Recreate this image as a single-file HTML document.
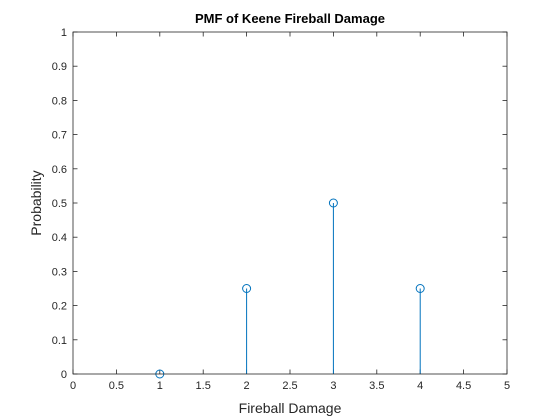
<!DOCTYPE html>
<html>
<head>
<meta charset="utf-8">
<style>
html,body{margin:0;padding:0;background:#fff;}
svg{display:block;font-family:"Liberation Sans",Arial,sans-serif;}
</style>
</head>
<body>
<svg id="chart" width="560" height="420" viewBox="0 0 560 420">
  <rect x="0" y="0" width="560" height="420" fill="#fff"/>
  <rect x="73" y="32" width="434" height="342" fill="#fff"/>
  <g id="grid"></g>
  <g id="marks"></g>
  <rect x="73" y="32" width="434" height="342" fill="none" stroke="#262626" stroke-width="0.8"/>
  <text x="290" y="23" text-anchor="middle" font-size="13" font-weight="bold" fill="#000">PMF of Keene Fireball Damage</text>
  <text x="290" y="413" text-anchor="middle" font-size="14" fill="#262626">Fireball Damage</text>
  <text x="0" y="0" transform="translate(41,203) rotate(-90)" text-anchor="middle" font-size="14" fill="#262626">Probability</text>
</svg>
<script>
const categories = [1, 2, 3, 4];
const probabilities = [0, 0.25, 0.5, 0.25];
const xTickLabels = ["0","0.5","1","1.5","2","2.5","3","3.5","4","4.5","5"];
const yTickLabels = ["0","0.1","0.2","0.3","0.4","0.5","0.6","0.7","0.8","0.9","1"];

const L=73,R=507,T=32,B=374;
const xMin=0,xMax=5,yMin=0,yMax=1;
function sx(v){return L+(v-xMin)/(xMax-xMin)*(R-L);}
function sy(v){return B-(v-yMin)/(yMax-yMin)*(B-T);}
const NS="http://www.w3.org/2000/svg";
const grid=document.getElementById('grid');
const marks=document.getElementById('marks');
function mk(tag,attrs,parent){const e=document.createElementNS(NS,tag);for(const k in attrs)e.setAttribute(k,attrs[k]);parent.appendChild(e);return e;}

xTickLabels.forEach(function(lab){
  const v=parseFloat(lab), x=sx(v);
  const t1=mk('line',{x1:x,x2:x,y1:B,y2:B-4.5,stroke:'#262626','stroke-width':0.8},grid);
  
  
  const t2=mk('line',{x1:x,x2:x,y1:T,y2:T+4.5,stroke:'#262626','stroke-width':0.8},grid);
  
  
  const tx=mk('text',{x:x,y:B+15,'text-anchor':'middle','font-size':11,fill:'#262626'},grid);
  tx.textContent=lab;
  
  
});
yTickLabels.forEach(function(lab){
  const v=parseFloat(lab), y=sy(v);
  const t1=mk('line',{x1:L,x2:L+4.5,y1:y,y2:y,stroke:'#262626','stroke-width':0.8},grid);
  
  
  const t2=mk('line',{x1:R,x2:R-4.5,y1:y,y2:y,stroke:'#262626','stroke-width':0.8},grid);
  
  
  const tx=mk('text',{x:L-6,y:y+4,'text-anchor':'end','font-size':11,fill:'#262626'},grid);
  tx.textContent=lab;
  
  
});
categories.forEach(function(c,i){
  const x=sx(c), y=sy(probabilities[i]);
  const s=mk('line',{x1:x,x2:x,y1:sy(0),y2:y,stroke:'#0072BD','stroke-width':1},marks);
  
  
  const m=mk('circle',{cx:x,cy:y,r:4,fill:'none',stroke:'#0072BD','stroke-width':1},marks);
  
  
});
</script>
</body>
</html>
